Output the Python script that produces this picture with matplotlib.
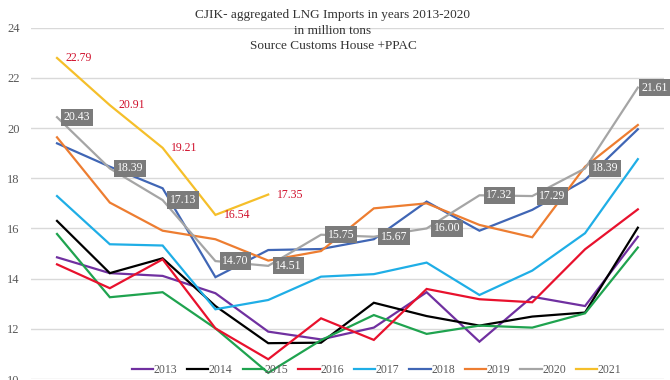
import numpy as np
import matplotlib
matplotlib.use("Agg")
import matplotlib.pyplot as plt

plt.rcParams['font.family'] = ['Liberation Serif', 'DejaVu Serif']

months = list(range(1, 13))
years = ['2013', '2014', '2015', '2016', '2017', '2018', '2019', '2020', '2021']

v2013 = [14.85, 14.22, 14.11, 13.42, 11.89, 11.58, 12.05, 13.46, 11.49, 13.28, 12.91, 15.67]
v2014 = [16.30, 14.22, 14.81, 12.91, 11.43, 11.45, 13.04, 12.51, 12.13, 12.49, 12.65, 16.03]
v2015 = [15.78, 13.26, 13.46, 12.02, 10.25, 11.55, 12.55, 11.80, 12.13, 12.05, 12.62, 15.24]
v2016 = [14.57, 13.62, 14.77, 12.02, 10.79, 12.42, 11.56, 13.59, 13.18, 13.06, 15.17, 16.76]
v2017 = [17.29, 15.37, 15.32, 12.78, 13.15, 14.08, 14.18, 14.64, 13.35, 14.32, 15.81, 18.76]
v2018 = [19.39, 18.46, 17.60, 14.06, 15.14, 15.18, 15.57, 17.07, 15.91, 16.74, 17.93, 19.95]
v2019 = [19.63, 17.03, 15.91, 15.57, 14.72, 15.10, 16.80, 17.00, 16.14, 15.65, 18.46, 20.12]
v2020 = [20.43, 18.39, 17.13, 14.70, 14.51, 15.75, 15.67, 16.00, 17.32, 17.29, 18.39, 21.61]
v2021 = [22.79, 20.91, 19.21, 16.54, 17.35]

series = [v2013, v2014, v2015, v2016, v2017, v2018, v2019, v2020, v2021]
colors = ['#7030A0', '#000000', '#1FA34F', '#E8112D', '#1FAEE6',
          '#4066B5', '#ED7D31', '#A5A5A5', '#F5BF2A']

fig = plt.figure(figsize=(6.7, 3.8), dpi=100)
ax = fig.add_axes([0.0457, 0.0024, 0.9457, 0.925])

for yr, vals, c in zip(years, series, colors):
    x = np.arange(len(vals))
    ax.plot(x, vals, color=c, lw=1.6, label=yr, solid_joinstyle='miter')

# grey boxed labels for 2020
for i, v in enumerate(v2020):
    off = 5 if i < len(v2020) - 1 else 2.5
    ax.annotate('%.2f' % v, (i, v), xytext=(off, 0), textcoords='offset points',
                ha='left', va='center', fontsize=8.5, color='white',
                bbox=dict(boxstyle='square,pad=0.22', fc='#7b7b7b', ec='none'))

# red labels for 2021
for i, v in enumerate(v2021):
    ax.annotate('%.2f' % v, (i, v), xytext=(6, 0), textcoords='offset points',
                ha='left', va='center', fontsize=8.5, color='#D0102C')

ax.set_xlim(-0.5, 11.5)
ax.set_ylim(10, 24)
ax.set_yticks(np.arange(10, 25, 2))
ax.set_xticks([])
ax.grid(axis='y', color='#d9d9d9', lw=1)
ax.set_axisbelow(True)
for s in ax.spines.values():
    s.set_visible(False)
ax.tick_params(axis='y', length=0, labelsize=9, labelcolor='#595959', pad=8)

leg = ax.legend(ncol=9, loc='center', bbox_to_anchor=(0.546, 0.026), frameon=False,
                fontsize=8.5, handlelength=1.8, handletextpad=0.05, columnspacing=0.85,
                borderaxespad=0)
for t in leg.get_texts():
    t.set_color('#595959')

fig.text(0.497, 1 - 15 / 380, 'CJIK- aggregated LNG Imports in years 2013-2020',
         ha='center', va='center', fontsize=9.5, color='#333333')
fig.text(0.497, 1 - 31 / 380, 'in million tons',
         ha='center', va='center', fontsize=9.5, color='#333333')
fig.text(0.497, 1 - 46 / 380, 'Source Customs House +PPAC',
         ha='center', va='center', fontsize=9.5, color='#333333')

fig.savefig('out.png', dpi=100)
